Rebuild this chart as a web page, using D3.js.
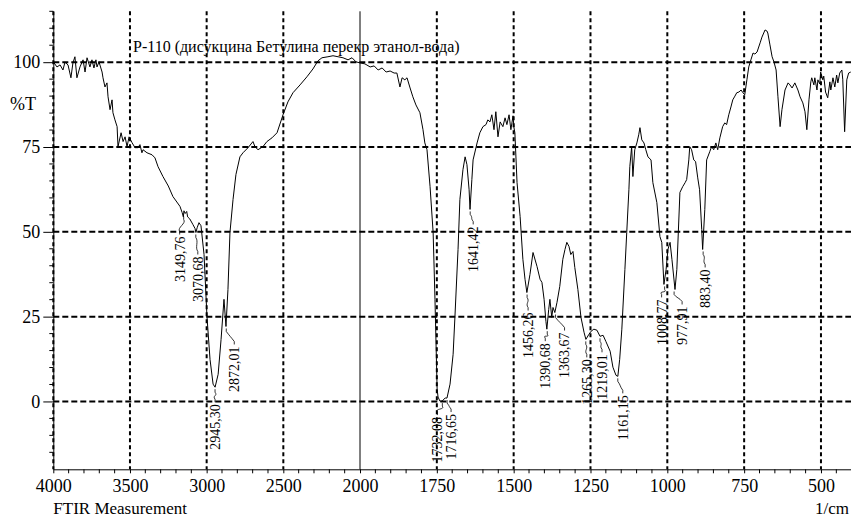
<!DOCTYPE html>
<html>
<head>
<meta charset="utf-8">
<script src="https://cdn.jsdelivr.net/npm/d3@7"></script>
<style>
  body { margin: 0; background: #fff; }
  svg { display: block; font-family: "Liberation Serif", "Times New Roman", serif; }
</style>
</head>
<body>
<div id="chart"></div>
<script>
const title = "Р-110 (дисукцина Бетулина перекр этанол-вода)";
const xTitle = "FTIR Measurement";
const xUnit = "1/cm";
const yTitle = "%T";

const xMajorTicks = [4000, 3500, 3000, 2500, 2000, 1750, 1500, 1250, 1000, 750, 500];
const yMajorTicks = [0, 25, 50, 75, 100];

// [wavenumber, %T]
const spectrum = [
  [4000, 100.1], [3976, 98.6], [3956, 99.2], [3937, 97.7], [3924, 100.0], [3904, 99.2],
  [3885, 95.4], [3872, 99.8], [3859, 101.6], [3846, 95.4], [3826, 98.6], [3806, 100.7],
  [3793, 97.1], [3780, 101.3], [3761, 98.6], [3748, 100.7], [3735, 98.3], [3722, 100.7],
  [3715, 98.6], [3702, 100.1], [3682, 97.1], [3676, 95.4], [3663, 92.7], [3650, 93.9],
  [3643, 89.8], [3630, 86.0], [3617, 88.9], [3611, 85.1], [3598, 83.0], [3584, 81.0],
  [3578, 75.1], [3558, 79.2], [3545, 76.6], [3532, 78.0], [3519, 75.1], [3506, 78.0],
  [3487, 76.3], [3467, 74.8], [3448, 74.8], [3435, 75.7], [3422, 73.3], [3415, 74.2],
  [3389, 73.3], [3356, 72.7], [3337, 71.8], [3317, 69.2], [3285, 66.3], [3250, 63.5],
  [3220, 60.4], [3174, 57.5], [3160, 55.7], [3152, 54.4], [3148, 56.2], [3140, 55.4],
  [3130, 56.0], [3124, 54.4], [3110, 53.8], [3089, 52.1], [3076, 51.0], [3070, 49.8],
  [3062, 51.2], [3050, 52.7], [3037, 51.8], [3017, 43.3], [2998, 25.1], [2978, 12.4],
  [2958, 5.1], [2945, 4.2], [2925, 8.0], [2906, 18.3], [2887, 30.1], [2874, 22.1],
  [2861, 33.0], [2848, 49.8], [2828, 59.5], [2809, 66.9], [2783, 72.1], [2763, 73.3],
  [2730, 74.8], [2698, 76.6], [2685, 75.1], [2665, 74.2], [2633, 75.1], [2607, 76.6],
  [2574, 77.7], [2541, 79.2], [2502, 84.5], [2470, 88.3], [2437, 91.0], [2391, 93.3],
  [2346, 95.7], [2307, 98.0], [2274, 100.4], [2248, 101.3], [2209, 101.6], [2176, 101.9],
  [2143, 101.6], [2111, 101.3], [2078, 100.7], [2052, 101.3], [2026, 100.1], [2000, 99.8],
  [1984, 99.5], [1967, 98.6], [1954, 98.9], [1941, 97.7], [1928, 98.3], [1915, 97.1],
  [1902, 97.4], [1889, 96.8], [1880, 96.8], [1870, 92.7], [1863, 95.4], [1854, 94.8],
  [1847, 95.4], [1837, 92.4], [1828, 89.8], [1818, 87.4], [1805, 85.1], [1795, 80.1],
  [1789, 76.2], [1782, 74.2], [1772, 63.3], [1762, 49.8], [1756, 30.1], [1749, 3.6],
  [1746, 1.3], [1740, 0.1], [1733, 0.1], [1723, 1.0], [1717, 1.0], [1707, 5.1],
  [1697, 13.9], [1691, 25.1], [1681, 44.8], [1675, 59.5], [1665, 68.3], [1658, 72.1],
  [1652, 69.8], [1645, 62.4], [1642, 56.6], [1636, 65.4], [1632, 71.2], [1619, 76.2],
  [1610, 79.2], [1600, 81.0], [1590, 81.6], [1584, 83.0], [1577, 82.4], [1571, 84.5],
  [1564, 80.1], [1558, 85.4], [1551, 78.0], [1544, 82.4], [1535, 81.0], [1528, 83.6],
  [1522, 81.6], [1515, 84.5], [1509, 80.1], [1502, 84.2], [1499, 80.7], [1496, 79.2],
  [1489, 64.5], [1479, 54.5], [1470, 41.9], [1463, 36.0], [1457, 32.1], [1447, 37.4],
  [1437, 43.9], [1424, 39.8], [1414, 36.0], [1408, 35.1], [1401, 30.1], [1395, 23.6],
  [1392, 21.3], [1386, 27.1], [1382, 30.1], [1376, 24.8], [1372, 27.7], [1366, 26.2],
  [1359, 29.2], [1350, 33.9], [1340, 41.9], [1333, 44.8], [1327, 46.9], [1320, 45.7],
  [1314, 43.3], [1307, 44.2], [1301, 39.5], [1291, 33.0], [1281, 24.8], [1271, 20.4],
  [1265, 18.3], [1255, 19.8], [1248, 20.7], [1239, 21.3], [1229, 21.0], [1219, 19.2],
  [1209, 19.5], [1200, 17.7], [1186, 14.8], [1177, 10.1], [1167, 7.7], [1161, 7.4],
  [1155, 12.4], [1148, 21.3], [1138, 38.9], [1132, 49.8], [1125, 62.4], [1122, 69.2],
  [1116, 75.1], [1112, 66.3], [1106, 74.2], [1099, 76.2], [1093, 78.6], [1089, 80.7],
  [1083, 77.1], [1076, 76.2], [1070, 74.2], [1063, 72.1], [1053, 71.2], [1047, 64.5],
  [1034, 58.6], [1024, 48.6], [1018, 46.9], [1011, 34.5], [1004, 38.9], [998, 44.8],
  [991, 46.9], [985, 41.9], [975, 33.0], [969, 38.9], [959, 61.6], [950, 63.3],
  [942, 64.5], [937, 65.4], [930, 71.2], [927, 75.1], [921, 74.2], [914, 71.2],
  [908, 70.7], [901, 65.9], [895, 62.4], [888, 50.7], [885, 44.8], [878, 56.6],
  [872, 71.2], [862, 73.6], [856, 75.1], [849, 74.2], [842, 76.2], [836, 74.2],
  [829, 77.7], [820, 81.0], [813, 82.1], [807, 81.6], [800, 84.5], [793, 86.8],
  [787, 88.9], [780, 90.0], [774, 91.0], [767, 91.2], [760, 91.8], [754, 91.0],
  [748, 90.4], [741, 94.8], [735, 98.6], [728, 100.7], [721, 102.7], [715, 102.4],
  [708, 103.0], [698, 105.7], [692, 107.4], [682, 109.5], [676, 109.2], [673, 108.6],
  [666, 105.1], [659, 101.6], [653, 100.1], [646, 97.7], [640, 89.8], [633, 81.0],
  [627, 86.0], [617, 91.8], [607, 93.9], [601, 93.3], [594, 92.4], [585, 93.9],
  [575, 91.8], [568, 89.8], [559, 88.0], [552, 85.4], [546, 80.1], [539, 88.9],
  [533, 94.2], [530, 95.4], [523, 93.3], [520, 95.4], [513, 91.8], [510, 94.8],
  [504, 93.6], [501, 97.1], [494, 94.8], [491, 95.9], [485, 91.2], [478, 89.5],
  [471, 94.2], [468, 91.8], [461, 95.4], [455, 92.7], [449, 96.2], [445, 93.9],
  [439, 96.8], [432, 97.7], [429, 94.8], [423, 79.5], [416, 94.8], [410, 96.8],
  [403, 97.1]
];

const peakWn = [3149.76, 3070.68, 2945.30, 2872.01, 1732.08, 1716.65, 1641.42, 1456.26,
  1390.68, 1363.67, 1265.30, 1219.01, 1161.15, 1008.77, 977.91, 883.40];
const peakT = [55.1, 49.8, 4.2, 22.1, 0.1, 1.0, 56.6, 32.1, 21.3, 26.2, 18.3, 19.2, 7.4, 34.5, 33.0, 44.8];
const peakLabels = ["3149,76", "3070,68", "2945,30", "2872,01", "1732,08", "1716,65", "1641,42", "1456,26",
  "1390,68", "1363,67", "1265,30", "1219,01", "1161,15", "1008,77", "977,91", "883,40"];

// label placement nudges (px): centre offset and gap below the peak
const labelNudge = [[-4, 22], [2, 24], [0, 17], [8, 20], [-5, 16], [4, 16], [3, 17], [1, 20],
  [-2, 14], [9, 20], [1, 20], [2, 18], [5, 19], [-3, 15], [8, 17], [2, 20]];

const W = 851, H = 518;
const mLeft = 53.3, mRight = 851.7, mTop = 11.3, mBottom = 469.3;

const svg = d3.select("#chart").append("svg")
  .attr("width", W).attr("height", H);

// wavenumber axis is compressed 2x above 2000
const x = d3.scaleLinear().domain([4000, 2000, 400]).range([mLeft, 360, mRight]);
const y = d3.scaleLinear().domain([-20, 115]).range([mBottom, mTop]);

// grid
const grid = svg.append("g");
grid.selectAll(".hgrid").data(yMajorTicks).enter().append("line")
  .attr("x1", mLeft).attr("x2", W)
  .attr("y1", d => y(d)).attr("y2", d => y(d))
  .attr("stroke", "#000").attr("stroke-width", 2).attr("stroke-dasharray", "6,3");
grid.selectAll(".vgrid").data(xMajorTicks.filter(d => d !== 2000)).enter().append("line")
  .attr("x1", d => x(d)).attr("x2", d => x(d))
  .attr("y1", mTop).attr("y2", mBottom)
  .attr("stroke", "#000").attr("stroke-width", 2).attr("stroke-dasharray", "4,3");
grid.append("line")
  .attr("x1", x(2000)).attr("x2", x(2000)).attr("y1", mTop).attr("y2", mBottom)
  .attr("stroke", "#000").attr("stroke-width", 1);

// axes
const xAxis = svg.append("g").attr("transform", `translate(0,${mBottom})`)
  .call(d3.axisBottom(x).tickValues(xMajorTicks).tickFormat(d3.format("d"))
    .tickSize(4).tickSizeOuter(0).tickPadding(6));
const yAxis = svg.append("g").attr("transform", `translate(${mLeft},0)`)
  .call(d3.axisLeft(y).tickValues(yMajorTicks).tickSize(10).tickSizeOuter(0).tickPadding(3));
[xAxis, yAxis].forEach(a => {
  a.attr("font-family", null);
  a.selectAll("text").attr("font-size", 18).attr("fill", "#000");
  a.selectAll("line,path").attr("stroke", "#000");
});

const xMinor = d3.range(4000, 2000, -100).concat(d3.range(2000, 399, -50))
  .filter(d => !xMajorTicks.includes(d));
svg.append("g").selectAll("line").data(xMinor).enter().append("line")
  .attr("x1", d => x(d)).attr("x2", d => x(d))
  .attr("y1", mBottom).attr("y2", mBottom + 4).attr("stroke", "#000");
const yMinor = d3.range(-15, 116, 5).filter(d => !yMajorTicks.includes(d));
svg.append("g").selectAll("line").data(yMinor).enter().append("line")
  .attr("x1", mLeft - 4).attr("x2", mLeft)
  .attr("y1", d => y(d)).attr("y2", d => y(d)).attr("stroke", "#000");

// spectrum
const line = d3.line().x(d => x(d[0])).y(d => y(d[1]));
svg.append("path").datum(spectrum)
  .attr("d", line).attr("fill", "none")
  .attr("stroke", "#000").attr("stroke-width", 1);

// peak labels
const peaks = peakWn.map((w, i) => ({wn: w, t: peakT[i], label: peakLabels[i], nudge: labelNudge[i]}));
const pg = svg.append("g").selectAll("g").data(peaks).enter().append("g");
pg.append("path")
  .attr("d", d => {
    const px = x(d.wn), py = y(d.t), dx = d.nudge[0], dy = d.nudge[1];
    return `M${px},${py + 2} L${px},${py + 5} C${px + 3},${py + 9} ${px + dx - 3},${py + dy - 9} ${px + dx},${py + dy - 5} L${px + dx},${py + dy - 2}`;
  })
  .attr("fill", "none").attr("stroke", "#000").attr("stroke-width", 0.8);
pg.append("text")
  .attr("transform", d => `translate(${x(d.wn) + d.nudge[0]},${y(d.t) + d.nudge[1]}) rotate(-90)`)
  .attr("text-anchor", "end").attr("dy", "0.35em")
  .attr("font-size", 14).text(d => d.label);

// titles
svg.append("text").attr("x", 133).attr("y", 52).attr("font-size", 16).text(title);
svg.append("text").attr("x", 10).attr("y", 110).attr("font-size", 18).text(yTitle);
svg.append("text").attr("x", mLeft).attr("y", 514).attr("font-size", 17).text(xTitle);
svg.append("text").attr("x", 849).attr("y", 514).attr("text-anchor", "end").attr("font-size", 17).text(xUnit);
</script>
</body>
</html>
